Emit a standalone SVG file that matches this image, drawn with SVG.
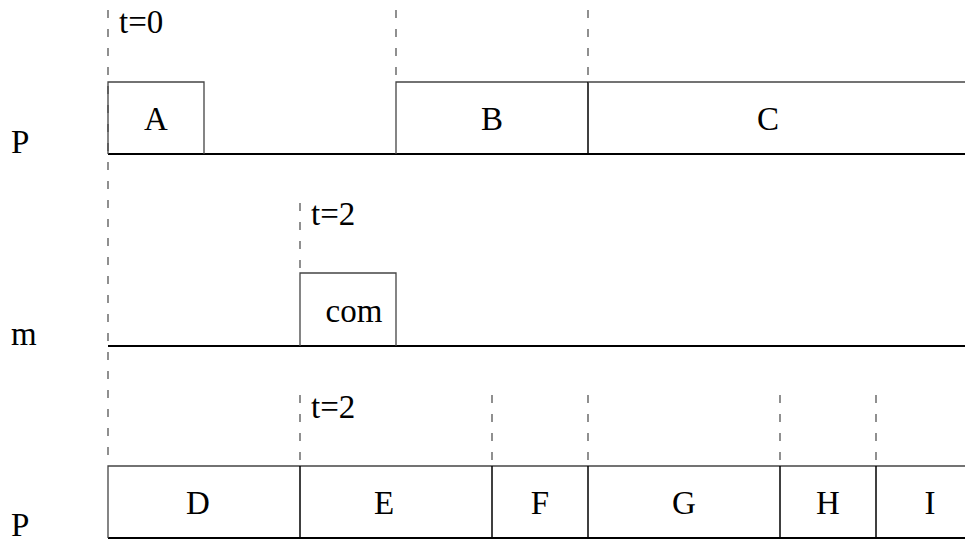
<svg xmlns="http://www.w3.org/2000/svg" width="965" height="543" viewBox="0 0 965 543">
<style>
text{font-family:'Liberation Serif','Times New Roman','DejaVu Serif',serif;font-size:33px;fill:#000}
.mid{text-anchor:middle}
.dash{stroke:#555;stroke-width:1.3;stroke-dasharray:8 11;fill:none}
.top{stroke:#444;stroke-width:1.3;fill:none}
.base{stroke:#000;stroke-width:2;fill:none}
.side{stroke:#000;stroke-width:1.5;fill:none}
</style>
<rect width="965" height="543" fill="#fff"/>
<g id="connectors">
<line class="dash" x1="108" y1="10" x2="108" y2="466"/>
<line class="dash" x1="396" y1="10" x2="396" y2="82"/>
<line class="dash" x1="588" y1="10" x2="588" y2="82"/>
<line class="dash" x1="300" y1="203" x2="300" y2="273"/>
<line class="dash" x1="300" y1="395" x2="300" y2="466"/>
<line class="dash" x1="492" y1="395" x2="492" y2="466"/>
<line class="dash" x1="588" y1="395" x2="588" y2="466"/>
<line class="dash" x1="780" y1="395" x2="780" y2="466"/>
<line class="dash" x1="876" y1="395" x2="876" y2="466"/>
<line class="base" x1="108" y1="154" x2="965" y2="154"/>
<line class="base" x1="108" y1="346" x2="965" y2="346"/>
<line class="base" x1="108" y1="538" x2="965" y2="538"/>
</g>
<g id="rowlabels" font-family="Liberation Serif, serif">
<text x="11" y="153">P</text>
<text x="11" y="345">m</text>
<text x="11" y="536">P</text>
<text x="119" y="33">t=0</text>
<text x="311" y="225">t=2</text>
<text x="311" y="418">t=2</text>
</g>
<g id="A"><path class="top" d="M108,154 V82 H204 V154"/><text class="mid" x="156" y="130">A</text></g>
<g id="B"><path class="top" d="M396,154 V82 H588"/><line class="side" x1="588" y1="82" x2="588" y2="154"/><text class="mid" x="492" y="130">B</text></g>
<g id="C"><path class="top" d="M588,82 H965"/><text class="mid" x="768" y="130">C</text></g>
<g id="com"><path class="top" d="M300,346 V273 H396 V346"/><text class="mid" x="354" y="322">com</text></g>
<g id="D"><path class="top" d="M108,538 V466 H300"/><text class="mid" x="198" y="514">D</text></g>
<g id="E"><path class="top" d="M300,466 H492"/><line class="side" x1="300" y1="466" x2="300" y2="538"/><text class="mid" x="384" y="514">E</text></g>
<g id="F"><path class="top" d="M492,466 H588"/><line class="side" x1="492" y1="466" x2="492" y2="538"/><text class="mid" x="540" y="514">F</text></g>
<g id="G"><path class="top" d="M588,466 H780"/><line class="side" x1="588" y1="466" x2="588" y2="538"/><text class="mid" x="684" y="514">G</text></g>
<g id="H"><path class="top" d="M780,466 H876"/><line class="side" x1="780" y1="466" x2="780" y2="538"/><text class="mid" x="828" y="514">H</text></g>
<g id="I"><path class="top" d="M876,466 H965"/><line class="side" x1="876" y1="466" x2="876" y2="538"/><text class="mid" x="930" y="514">I</text></g>
</svg>
